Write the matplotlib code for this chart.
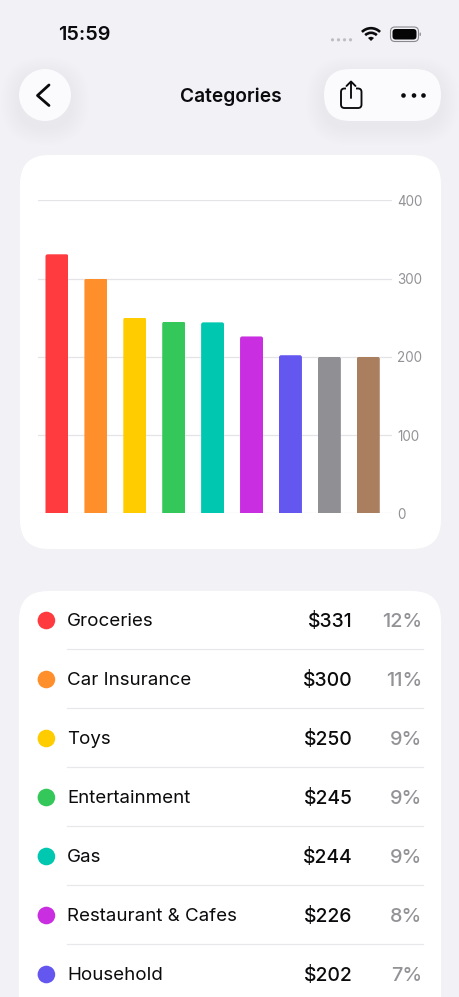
import matplotlib
matplotlib.use("Agg")
import matplotlib.pyplot as plt
from matplotlib.patches import FancyBboxPatch, Circle, Arc, Wedge, Rectangle
from matplotlib.transforms import IdentityTransform

plt.rcParams['font.family'] = ['Inter', 'DejaVu Sans']

# ---- data ----
bar_values = [331, 300, 250, 245, 244, 226, 202, 200, 200]
bar_colors = ['#FF3B3F', '#FF8F2B', '#FFCC00', '#34C85A', '#00C7B0',
              '#C92FE0', '#6457F0', '#8F8F94', '#A97F5F']
y_ticks = [0, 100, 200, 300, 400]
row_names = ['Groceries', 'Car Insurance', 'Toys', 'Entertainment', 'Gas',
             'Restaurant & Cafes', 'Household']
row_amounts = ['$331', '$300', '$250', '$245', '$244', '$226', '$202']
row_shares = ['12%', '11%', '9%', '9%', '9%', '8%', '7%']

W, H = 460, 997
BG = '#F1F1F6'
fig = plt.figure(figsize=(W / 100, H / 100), dpi=100, facecolor=BG)

ui = fig.add_axes([0, 0, 1, 1], zorder=0)
ui.set_xlim(0, W)
ui.set_ylim(H, 0)
ui.axis('off')


def rbox(x0, y0, x1, y1, r, fc, ec='none', lw=0, z=1, alpha=None, target=None):
    p = FancyBboxPatch((x0 + r, y0 + r), x1 - x0 - 2 * r, y1 - y0 - 2 * r,
                       boxstyle=f'round,pad={r},rounding_size={r}',
                       fc=fc, ec=ec, lw=lw, zorder=z, alpha=alpha)
    (target or ui).add_patch(p)
    return p


def shadow(x0, y0, x1, y1, r):
    for g in range(18, 0, -2):
        rbox(x0 - g, y0 - g + 6, x1 + g, y1 + g + 6, r + g, '#D0D0DA', alpha=0.012, z=1)


# cards
rbox(20, 155, 441, 549, 29, 'white')
rbox(19, 591, 441, 1040, 29, 'white')

# status bar
ui.text(84, 35.5, '15:59', fontsize=14.3, fontweight='semibold', color='#0B0B0D',
        ha='center', va='center')
for x in (332.5, 338.5, 344.5, 350.5):
    ui.add_patch(Circle((x, 39.8), 1.6, fc='#BDBDC2', ec='none', zorder=2))
for rad in (12.8, 8.2):
    ui.add_patch(Arc((371, 41), 2 * rad, 2 * rad, theta1=225, theta2=315,
                     color='#0B0B0D', lw=1.9, zorder=2))
ui.add_patch(Wedge((371, 41), 4.2, 225, 315, fc='#0B0B0D', ec='none', zorder=2))
rbox(390.5, 27, 418.5, 41.5, 4.5, 'none', ec='#8A8A8E', lw=0.8, z=2)
rbox(392.5, 29, 416.5, 39.5, 3.2, '#050505', z=3)
rbox(419.5, 32.5, 421, 36, 0.7, '#9A9A9E', z=2)

# navigation buttons
shadow(19, 69, 71, 121, 26)
shadow(324, 69, 441, 121, 26)
ui.add_patch(Circle((45, 95), 26, fc='#FBFBFD', ec='none', zorder=2))
rbox(324, 69, 441, 121, 26, '#FBFBFD', z=2)
ui.plot([49, 37.5, 49], [85, 95.5, 105.5], color='#0B0B0D', lw=2.0,
        solid_capstyle='round', solid_joinstyle='round', zorder=3)
ui.text(230.5, 96.5, 'Categories', fontsize=13.8, fontweight='semibold', color='#0B0B0D',
        ha='center', va='center')
# share glyph
rbox(341, 88.5, 361.5, 108, 3.5, 'none', ec='#0B0B0D', lw=1.35, z=3)
ui.add_patch(Rectangle((346.5, 86), 9.5, 6, fc='#FBFBFD', ec='none', zorder=3.1))
ui.plot([351, 351], [82, 98.5], color='#0B0B0D', lw=1.35, solid_capstyle='round', zorder=3.2)
ui.plot([346.5, 351, 355.5], [86, 81.5, 86], color='#0B0B0D', lw=1.35,
        solid_capstyle='round', solid_joinstyle='round', zorder=3.2)
for x in (403.5, 414, 423.5):
    ui.add_patch(Circle((x, 95.5), 2.3, fc='#0B0B0D', ec='none', zorder=3))

# ---- bar chart ----
px_left, px_right, px_top, px_bottom = 38, 392, 200.3, 513.3
ax = fig.add_axes([px_left / W, 1 - px_bottom / H, (px_right - px_left) / W,
                   (px_bottom - px_top) / H], zorder=2)
ax.patch.set_alpha(0)
ax.set_xlim(-0.488, 8.61)
ax.set_ylim(0, 400)
for s in ax.spines.values():
    s.set_visible(False)
ax.set_xticks([])
ax.set_yticks(y_ticks)
ax.yaxis.tick_right()
ax.tick_params(axis='y', length=0, pad=3.6, labelsize=9.7, labelcolor='#939397')
ax.grid(axis='y', color='#E3E3E8', lw=0.9)
ax.set_axisbelow(True)
for lab in ax.get_yticklabels():
    lab.set_clip_on(False)

bars = ax.bar(range(len(bar_values)), bar_values, width=23 / 38.9,
              color=bar_colors, zorder=3)
fig.canvas.draw()
for b in bars:
    (x0, y0), (x1, y1) = ax.transData.transform(
        [(b.get_x(), 0), (b.get_x() + b.get_width(), b.get_height())])
    r = 2.2
    clip = FancyBboxPatch((x0 + r, y0 - 10), x1 - x0 - 2 * r, y1 - y0 + 10 - r,
                          boxstyle=f'round,pad={r},rounding_size={r}',
                          transform=IdentityTransform())
    b.set_clip_path(clip)

# ---- list ----
ROW0, STEP = 620.5, 59
for i, (name, amt, share) in enumerate(zip(row_names, row_amounts, row_shares)):
    y = ROW0 + i * STEP
    ui.add_patch(Circle((46.4, y), 8.8, fc=bar_colors[i], ec='none', zorder=3))
    ui.text(67.2, y + 1.3, name, fontsize=13.5, color='#0B0B0D', ha='left', va='center', zorder=3)
    ui.text(352.5, y + 1.3, amt, fontsize=13.9, fontweight='medium', color='#0B0B0D',
            ha='right', va='center', zorder=3)
    ui.text(422.5, y + 1.3, share, fontsize=14.3, fontweight='medium', color='#939397',
            ha='right', va='center', zorder=3)
    ui.plot([67, 423], [y + 28.5, y + 28.5], color='#E8E8EC', lw=0.9, zorder=2)

fig.savefig('out.png', dpi=100, facecolor=BG)
